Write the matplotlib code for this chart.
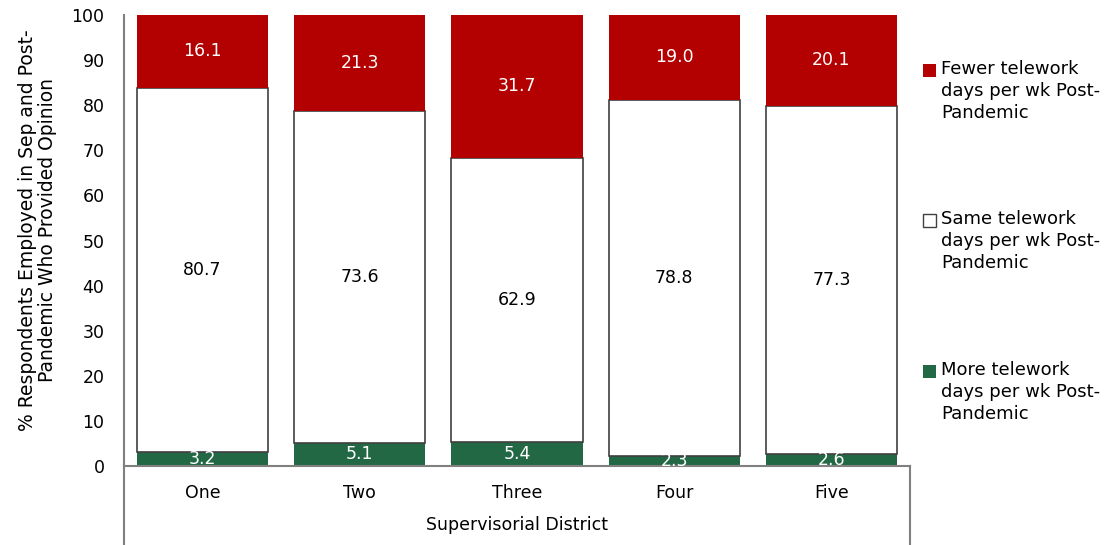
import matplotlib
matplotlib.use("Agg")
import matplotlib.pyplot as plt
from matplotlib.patches import Rectangle
import numpy as np

districts = ["One", "Two", "Three", "Four", "Five"]
more_vals = [3.2, 5.1, 5.4, 2.3, 2.6]
same_vals = [80.7, 73.6, 62.9, 78.8, 77.3]
fewer_vals = [16.1, 21.3, 31.7, 19.0, 20.1]

RED = "#b30000"
GREEN = "#236844"
EDGE = "#404040"
AXIS = "#808080"

plt.rcParams["font.family"] = "DejaVu Sans"

fig = plt.figure(figsize=(11.06, 5.45), dpi=100)
W, H = 1106, 545
ax = fig.add_axes([124 / W, 1 - 466 / H, (910 - 124) / W, (466 - 15) / H])

x = np.arange(len(districts))
width = 0.835
more = np.array(more_vals)
same = np.array(same_vals)
fewer = np.array(fewer_vals)

ax.bar(x, more, width, color=GREEN, edgecolor="none", zorder=2)
ax.bar(x, same, width, bottom=more, color="white", edgecolor=EDGE,
       linewidth=1.2, zorder=2)
ax.bar(x, fewer, width, bottom=more + same, color=RED, edgecolor="none", zorder=2)

# value labels centred in each segment
for i in range(len(x)):
    ax.text(x[i], more[i] / 2, f"{more[i]:.1f}", ha="center", va="center",
            color="white", fontsize=12.5, zorder=3)
    ax.text(x[i], more[i] + same[i] / 2, f"{same[i]:.1f}", ha="center", va="center",
            color="black", fontsize=12.5, zorder=3)
    ax.text(x[i], more[i] + same[i] + fewer[i] / 2, f"{fewer[i]:.1f}", ha="center",
            va="center", color="white", fontsize=12.5, zorder=3)

ax.set_xlim(-0.5, len(x) - 0.5)
ax.set_ylim(0, 100)
ax.set_yticks(np.arange(0, 101, 10))
ax.set_xticks(x)
ax.set_xticklabels(districts)
ax.tick_params(axis="both", length=0, labelsize=12.5)
ax.tick_params(axis="y", pad=14)
ax.tick_params(axis="x", pad=13)

for s in ["top", "right"]:
    ax.spines[s].set_visible(False)
for s in ["left", "bottom"]:
    ax.spines[s].set_color(AXIS)
    ax.spines[s].set_linewidth(1.5)

# category box lines below the axis
tr = ax.get_xaxis_transform()
ax.plot([-0.5, -0.5], [0, -0.175], transform=tr, color=AXIS, lw=1.5, clip_on=False)
ax.plot([len(x) - 0.5, len(x) - 0.5], [0, -0.175], transform=tr, color=AXIS, lw=1.5,
        clip_on=False)

ax.set_xlabel("Supervisorial District", fontsize=12.5, labelpad=10)
ax.set_ylabel("% Respondents Employed in Sep and Post-\nPandemic Who Provided Opinion",
              fontsize=13.5, linespacing=1.08)
ax.yaxis.set_label_coords(-0.085, 0.523)

# legend
legend_items = [
    (RED, "Fewer telework\ndays per wk Post-\nPandemic", 70),
    ("white", "Same telework\ndays per wk Post-\nPandemic", 220),
    (GREEN, "More telework\ndays per wk Post-\nPandemic", 371),
]
for color, label, yc in legend_items:
    fig.patches.append(Rectangle((923 / W, 1 - (yc + 7) / H), 13 / W, 13 / H,
                                 transform=fig.transFigure, facecolor=color,
                                 edgecolor=EDGE if color == "white" else "none",
                                 linewidth=1))
    fig.text(941 / W, 1 - (yc - 10) / H, label, ha="left", va="top", fontsize=13,
             linespacing=1.3)

fig.savefig("out.png", dpi=100)
